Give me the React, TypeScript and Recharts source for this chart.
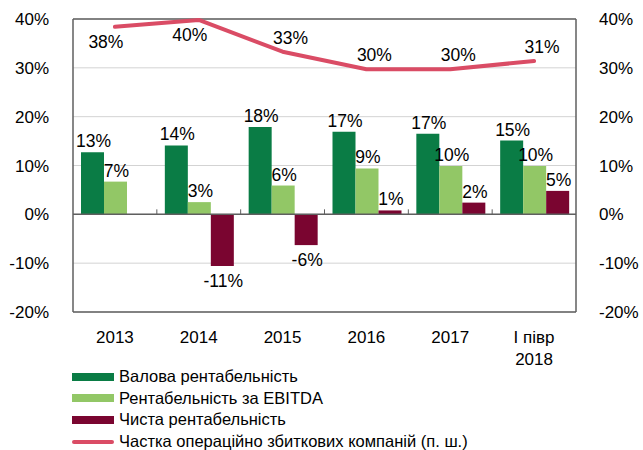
import React from 'react'
import {
  ComposedChart,
  Bar,
  Line,
  XAxis,
  YAxis,
  CartesianGrid,
  ReferenceLine,
  LabelList,
} from 'recharts'

// Profitability of companies, % (left axis) and share of operating-loss companies (right axis)

const categories = ['2013', '2014', '2015', '2016', '2017', 'I півр\n2018']
const grossMargin = [12.7, 14.1, 17.9, 16.9, 16.5, 15.1]
const ebitdaMargin = [6.7, 2.5, 5.9, 9.4, 9.9, 9.9]
const netMargin = [0, -10.6, -6.3, 0.8, 2.4, 4.8]
const lossShare = [38.4, 39.8, 33.3, 29.7, 29.7, 31.4]
const yTicks = [-20, -10, 0, 10, 20, 30, 40]

const GREEN = '#0a7c45'
const LIGHT_GREEN = '#92c766'
const WINE = '#7a0530'
const PINK = '#da4c65'
const BORDER = '#5f5f5f'
const FONT = '"Liberation Sans", Arial, sans-serif'

const data = categories.map((name, i) => ({
  name,
  gross: grossMargin[i],
  ebitda: ebitdaMargin[i],
  net: netMargin[i],
  loss: lossShare[i],
}))

const legendItems = [
  { name: 'Валова рентабельність', color: GREEN, kind: 'bar' },
  { name: 'Рентабельність за EBITDA', color: LIGHT_GREEN, kind: 'bar' },
  { name: 'Чиста рентабельність', color: WINE, kind: 'bar' },
  { name: 'Частка операційно збиткових компаній (п. ш.)', color: PINK, kind: 'line' },
]

const pct = (v: number) => `${Math.round(v)}%`

// labels above positive bars, below negative / zero ones
function BarLabel(props: any) {
  const vb = props.viewBox ?? props
  const { x, y, width, height } = vb
  const value = Number(props.value)
  const top = Math.min(y, y + height)
  const bottom = Math.max(y, y + height)
  const below = value <= 0
  return (
    <text
      x={x + width / 2 + 1}
      y={below ? bottom + 21 : top - 5}
      textAnchor="middle"
      fontSize={17.5}
      fontFamily={FONT}
      fill="#000"
    >
      {pct(value)}
    </text>
  )
}

// line labels: under the point near the top border, above elsewhere
function LineLabel(props: any) {
  const vb = props.viewBox ?? props
  const value = Number(props.value)
  const below = value >= 35
  return (
    <text
      x={vb.x + (below ? -9 : 8)}
      y={below ? vb.y + 21 : vb.y - 8}
      textAnchor="middle"
      fontSize={17.5}
      fontFamily={FONT}
      fill="#000"
    >
      {pct(value)}
    </text>
  )
}

// zero line with small category separators
function ZeroLine(props: any) {
  const { x1, y1, x2 } = props
  const step = (x2 - x1) / categories.length
  return (
    <g>
      <line x1={x1} y1={y1} x2={x2} y2={y1} stroke={BORDER} strokeWidth={1.5} />
      {categories.slice(1).map((_, i) => (
        <line
          key={i}
          x1={x1 + step * (i + 1)}
          x2={x1 + step * (i + 1)}
          y1={y1}
          y2={y1 - 5}
          stroke={BORDER}
          strokeWidth={1}
        />
      ))}
    </g>
  )
}

function CategoryTick({ x, y, payload }: any) {
  const lines = String(payload.value).split('\n')
  return (
    <text x={x} y={y + 31} textAnchor="middle" fontSize={17} fontFamily={FONT} fill="#000">
      {lines.map((l, i) => (
        <tspan key={i} x={x} dy={i === 0 ? 0 : 21.5}>
          {l}
        </tspan>
      ))}
    </text>
  )
}

function ChartLegend() {
  return (
    <div
      style={{
        position: 'absolute',
        left: 72,
        top: 366,
        fontFamily: FONT,
        fontSize: 16.5,
        color: '#000',
      }}
    >
      {legendItems.map((item) => (
        <div
          key={item.name}
          style={{ display: 'flex', alignItems: 'center', height: 21.6, whiteSpace: 'nowrap' }}
        >
          <div style={{ width: 42, display: 'flex', alignItems: 'center', marginRight: 5 }}>
            {item.kind === 'bar' ? (
              <div style={{ width: 42, height: 8, background: item.color }} />
            ) : (
              <div style={{ width: 42, height: 4, borderRadius: 2, background: item.color }} />
            )}
          </div>
          <span>{item.name}</span>
        </div>
      ))}
    </div>
  )
}

export default function App() {
  const tick = { fill: '#000', fontSize: 17, fontFamily: FONT }
  return (
    <div style={{ position: 'relative', width: 643, height: 450, background: '#fff' }}>
      <style>{'body{margin:0}'}</style>
      <ComposedChart
        width={643}
        height={450}
        data={data}
        margin={{ top: 19, right: 0, left: 0, bottom: 0 }}
        barGap={0}
        barCategoryGap={8}
      >
        <CartesianGrid yAxisId="left" vertical={false} stroke="#d3d3d3" strokeWidth={1} />

        <XAxis
          dataKey="name"
          height={138}
          tick={<CategoryTick />}
          tickLine={false}
          tickSize={0}
          tickMargin={0}
          axisLine={{ stroke: BORDER, strokeWidth: 1.5 }}
          interval={0}
        />
        <YAxis
          yAxisId="left"
          width={73}
          domain={[-20, 40]}
          ticks={yTicks}
          tickFormatter={pct}
          tick={tick}
          tickLine={false}
          tickMargin={18}
          axisLine={{ stroke: BORDER, strokeWidth: 1.5 }}
        />
        <YAxis
          yAxisId="right"
          orientation="right"
          width={67}
          domain={[-20, 40]}
          ticks={yTicks}
          tickFormatter={pct}
          tick={tick}
          tickLine={false}
          tickMargin={17}
          axisLine={{ stroke: BORDER, strokeWidth: 1.5 }}
        />

        <ReferenceLine yAxisId="left" y={40} stroke={BORDER} strokeWidth={1.5} />
        <ReferenceLine yAxisId="left" y={0} shape={<ZeroLine />} />

        <Bar yAxisId="left" dataKey="gross" fill={GREEN} isAnimationActive={false}>
          <LabelList dataKey="gross" content={<BarLabel />} />
        </Bar>
        <Bar yAxisId="left" dataKey="ebitda" fill={LIGHT_GREEN} isAnimationActive={false}>
          <LabelList dataKey="ebitda" content={<BarLabel />} />
        </Bar>
        <Bar yAxisId="left" dataKey="net" fill={WINE} isAnimationActive={false}>
          <LabelList dataKey="net" content={<BarLabel />} />
        </Bar>

        <Line
          yAxisId="right"
          type="linear"
          dataKey="loss"
          stroke={PINK}
          strokeWidth={4}
          strokeLinecap="round"
          strokeLinejoin="round"
          dot={false}
          activeDot={false}
          isAnimationActive={false}
        >
          <LabelList dataKey="loss" content={<LineLabel />} />
        </Line>
      </ComposedChart>
      <ChartLegend />
    </div>
  )
}
